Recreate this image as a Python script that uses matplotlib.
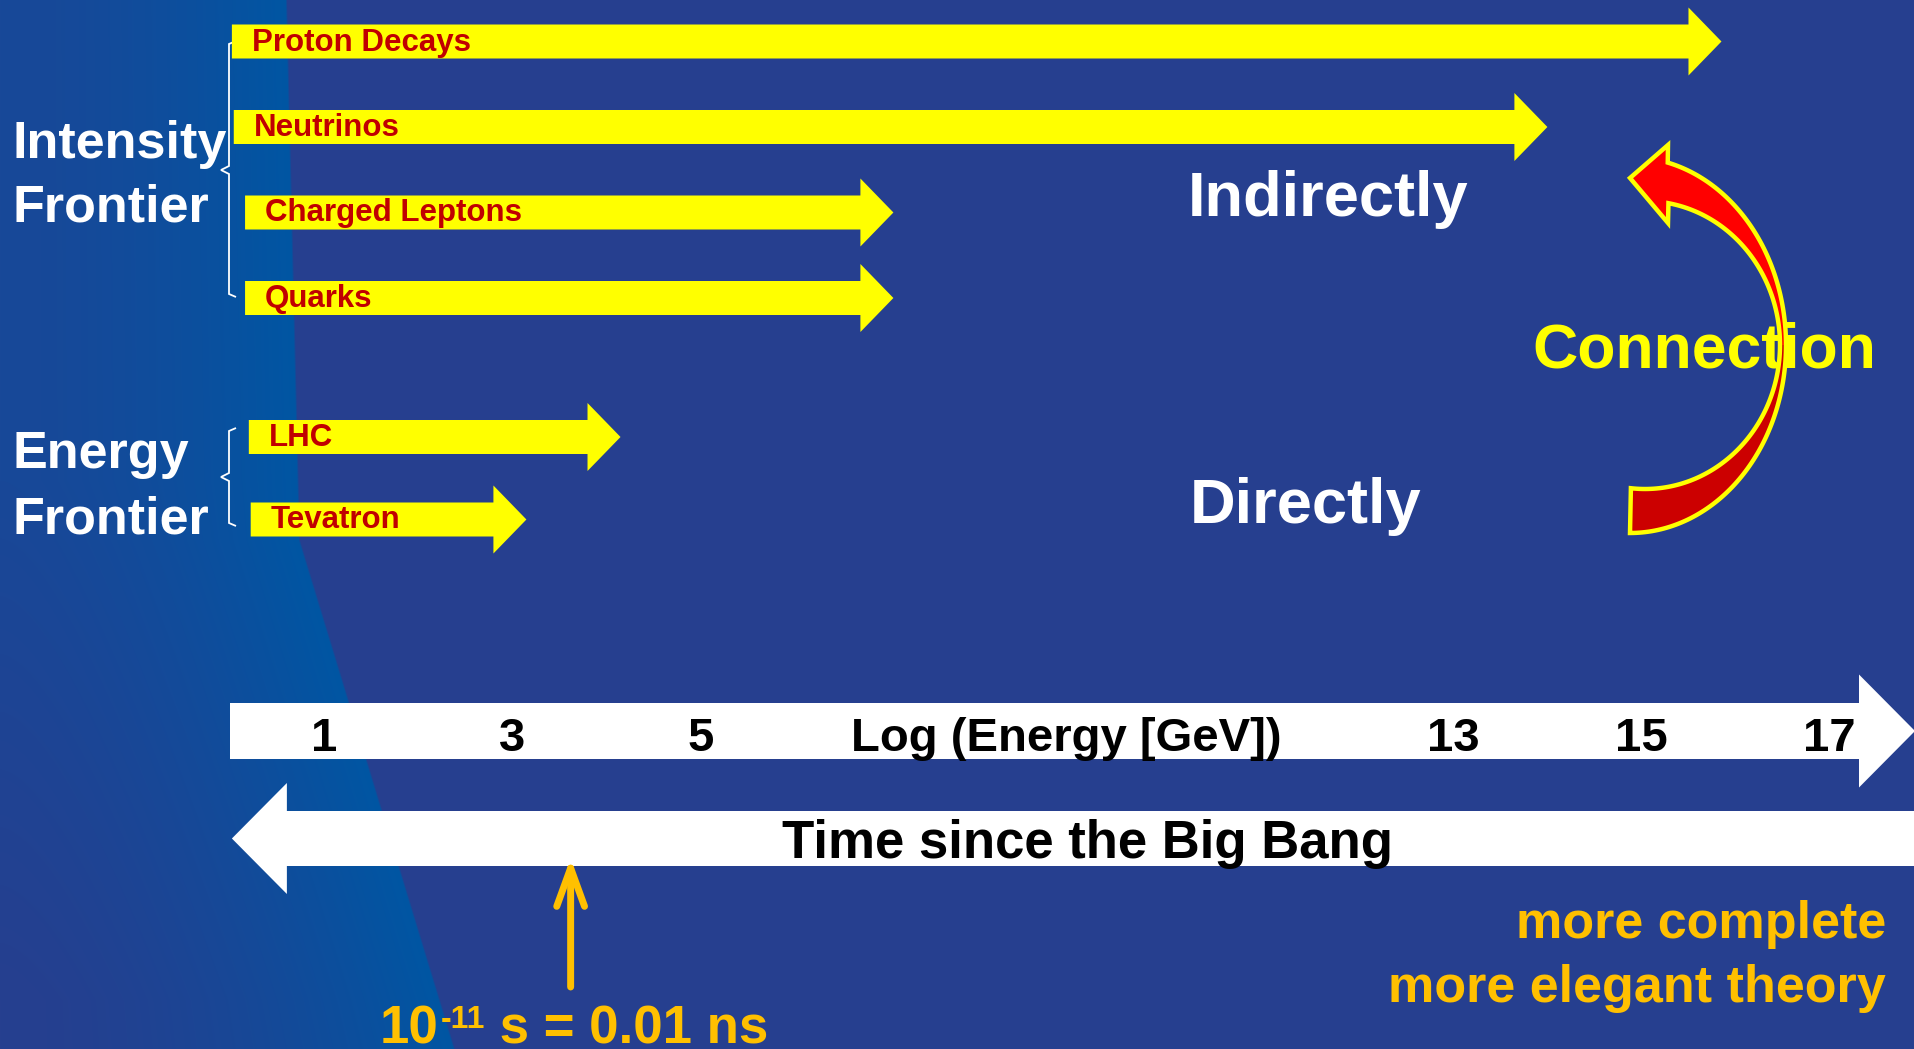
import matplotlib
matplotlib.use('Agg')
import matplotlib.pyplot as plt
import numpy as np
from matplotlib.patches import Polygon
from matplotlib.path import Path
from matplotlib.patches import PathPatch

plt.rcParams['font.family'] = ['Liberation Sans', 'DejaVu Sans']
plt.rcParams['font.weight'] = 'bold'

# reach of each experiment on the log10(E/GeV) scale
labels = ['Proton Decays', 'Neutrinos', 'Charged Leptons', 'Quarks', 'LHC', 'Tevatron']
reach_from = [0.02, 0.04, 0.16, 0.16, 0.20, 0.22]
reach_to = [15.85, 14.0, 7.05, 7.05, 4.15, 3.15]
tick_values = [1, 3, 5, 13, 15, 17]
mark_energy = 3.62   # 10^-11 s after the Big Bang

# layout (pixels, y downward)
W, H = 1915, 1049
row_y = [41.5, 127, 212.5, 298, 437, 519.5]
PX_PER_E = 94.1
E0_PX = 230
E_LEFT = -E0_PX / PX_PER_E
E_RIGHT = (W - E0_PX) / PX_PER_E

BG = np.array([38, 63, 143]) / 255
YELLOW = '#FFFF00'
DARKRED = '#C00000'
ORANGE = '#FFC000'

fig = plt.figure(figsize=(W / 100, H / 100), dpi=100)
deco = fig.add_axes([0, 0, 1, 1])
deco.set_xlim(0, W)
deco.set_ylim(H, 0)
deco.axis('off')

# background: dark blue with a lighter band on the left
yy, xx = np.mgrid[0:H, 0:W].astype(float)
edge = np.interp(yy[:, 0], [0, 540, H], [287, 300, 455])[:, None]
s = np.clip(xx / edge, 0, 1)
fade = np.clip((yy - 480) / 520, 0, 1)[..., None]
col_a = np.array([24, 72, 152]) / 255
col_b = np.array([0, 86, 163]) / 255
left = col_a * (1 - fade) + BG * fade
band = left + (col_b - left) * (s[..., None] ** 1.6)
inside = np.clip((edge - xx) / 2.0, 0, 1)[..., None]
img = band * inside + BG * (1 - inside)
deco.imshow(img, extent=(0, W, H, 0), aspect='auto', zorder=0, interpolation='bilinear')

# frontier labels and braces
for txt, yb in [('Intensity', 158), ('Frontier', 221), ('Energy', 468), ('Frontier', 533)]:
    deco.text(13, yb, txt, color='white', fontsize=37.5, va='baseline', ha='left')

def brace(top, bot, mid):
    verts = [(236, top), (229, top + 3), (229, mid - 4), (221, mid), (229, mid + 4),
             (229, bot - 3), (236, bot)]
    deco.add_patch(PathPatch(Path(verts), fill=False, ec='white', lw=1.3, zorder=3))

brace(41, 297, 170)
brace(428, 526, 477)

deco.text(1188, 216, 'Indirectly', color='white', fontsize=45.5, va='baseline')
deco.text(1190, 523, 'Directly', color='white', fontsize=45.5, va='baseline')
deco.text(1532, 368, 'Connection', color=YELLOW, fontsize=45, va='baseline', zorder=2)

# curved "connection" arrow
def ell(cx, cy, rx, ry, t0, t1, n=80):
    t = np.radians(np.linspace(t0, t1, n))
    return np.column_stack([cx + rx * np.cos(t), cy + ry * np.sin(t)])

tip = [(1630, 178)]
barb_hi = [(1668, 145)]
barb_lo = [(1668, 223)]
outer_up = ell(1630, 345, 156, 188, -76, 0)
outer_dn = ell(1630, 345, 156, 188, 0, 90)
inner_up = ell(1645, 345, 135, 144, -80, 0)
inner_dn = ell(1645, 345, 135, 144, 0, 96)
upper = np.vstack([tip, barb_hi, outer_up, inner_up[::-1], barb_lo])
lower = np.vstack([outer_dn, inner_dn[::-1]])
deco.add_patch(Polygon(upper, closed=True, fc='#FF0000', ec='none', zorder=4))
deco.add_patch(Polygon(lower, closed=True, fc='#CC0000', ec='none', zorder=4))
outline = np.vstack([tip, barb_hi, outer_up, outer_dn, inner_dn[::-1], inner_up[::-1], barb_lo])
deco.add_patch(Polygon(outline, closed=True, fill=False, ec=YELLOW, lw=3.2,
                       joinstyle='miter', zorder=5))

deco.text(1886, 938, 'more complete', color=ORANGE, fontsize=37.5, ha='right', va='baseline')
deco.text(1886, 1002, 'more elegant theory', color=ORANGE, fontsize=37.5, ha='right', va='baseline')

t1 = deco.text(380, 1043, '10', color=ORANGE, fontsize=38, ha='left', va='baseline')
t2 = deco.annotate('-11', xy=(1, 0.87), xycoords=t1, xytext=(2, 5), textcoords='offset pixels',
                   color=ORANGE, fontsize=23, ha='left', va='top')
deco.annotate(' s = 0.01 ns', xy=(1, 0), xycoords=(t2, t1), color=ORANGE, fontsize=38,
              ha='left', va='bottom')

# energy-scale axes on top
ax = fig.add_axes([0, 0, 1, 1])
ax.set_facecolor('none')
ax.set_xlim(E_LEFT, E_RIGHT)
ax.set_ylim(H, 0)
ax.axis('off')

def right_arrow(x0, x1, yc, h, hw, hl_px, color, z=3):
    hl = hl_px / PX_PER_E
    pts = [(x0, yc - h / 2), (x1 - hl, yc - h / 2), (x1 - hl, yc - hw / 2), (x1, yc),
           (x1 - hl, yc + hw / 2), (x1 - hl, yc + h / 2), (x0, yc + h / 2)]
    ax.add_patch(Polygon(pts, closed=True, fc=color, ec='none', zorder=z))

def left_arrow(x_tip, x1, yc, h, hw, hl_px, color, z=3):
    hl = hl_px / PX_PER_E
    pts = [(x1, yc - h / 2), (x_tip + hl, yc - h / 2), (x_tip + hl, yc - hw / 2), (x_tip, yc),
           (x_tip + hl, yc + hw / 2), (x_tip + hl, yc + h / 2), (x1, yc + h / 2)]
    ax.add_patch(Polygon(pts, closed=True, fc=color, ec='none', zorder=z))

for lab, e0, e1, yc in zip(labels, reach_from, reach_to, row_y):
    right_arrow(e0, e1, yc, 34, 68, 33, YELLOW)
    ax.annotate(lab, xy=(e0, yc + 9), xytext=(20, 0), textcoords='offset pixels',
                color=DARKRED, fontsize=22.5, ha='left', va='baseline', zorder=4)

# energy axis and time axis
right_arrow(0.0, E_RIGHT, 731, 56, 113, 56, 'white')
left_arrow(0.02, E_RIGHT + 0.5, 838.5, 55, 111, 55, 'white')
for v in tick_values:
    ax.text(v, 751, str(v), color='black', fontsize=34, ha='center', va='baseline', zorder=6)
ax.text(1066, 751, 'Log (Energy [GeV])', color='black', fontsize=34,
        ha='center', va='baseline', zorder=6, transform=deco.transData)
ax.text(1088, 858, 'Time since the Big Bang', color='black', fontsize=38,
        ha='center', va='baseline', zorder=6, transform=deco.transData)

ax.annotate('', xy=(mark_energy, 858), xytext=(mark_energy, 987),
            arrowprops=dict(arrowstyle='->,head_length=0.55,head_width=0.2', lw=5,
                            color=ORANGE, shrinkA=0, shrinkB=0, mutation_scale=50,
                            capstyle='round', joinstyle='round'))

fig.savefig('out.png', dpi=100)
